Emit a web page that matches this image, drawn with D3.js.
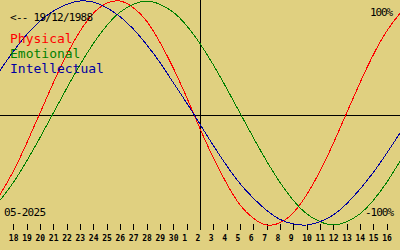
<!DOCTYPE html>
<html>
<head>
<meta charset="utf-8">
<script src="https://cdn.jsdelivr.net/npm/d3@7"></script>
<style>
  body { margin: 0; background: #e0d080; }
  svg { display: block; }
</style>
</head>
<body>
<svg id="chart"></svg>
<script>
// Biorhythm for someone born 19/12/1988, one point per day (17 May .. 16 June).
const birthDate = '19/12/1988';
const monthLabel = '05-2025';
const dayLabels = [18, 19, 20, 21, 22, 23, 24, 25, 26, 27, 28, 29, 30,
  1, 2, 3, 4, 5, 6, 7, 8, 9, 10, 11, 12, 13, 14, 15, 16];
const todayIndex = 15;

const physical = [-0.73, -0.52, -0.27, 0, 0.27, 0.52, 0.73, 0.89, 0.98, 1.0,
  0.94, 0.82, 0.63, 0.4, 0.14, -0.14, -0.4, -0.63, -0.82, -0.94,
  -1.0, -0.98, -0.89, -0.73, -0.52, -0.27, 0, 0.27, 0.52, 0.73, 0.89];
const emotional = [-0.78, -0.62, -0.43, -0.22, 0, 0.22, 0.43, 0.62, 0.78, 0.9,
  0.97, 1.0, 0.97, 0.9, 0.78, 0.62, 0.43, 0.22, 0, -0.22,
  -0.43, -0.62, -0.78, -0.9, -0.97, -1.0, -0.97, -0.9, -0.78, -0.62, -0.43];
const intellectual = [0.38, 0.55, 0.7, 0.82, 0.91, 0.97, 1.0, 0.99, 0.94, 0.86,
  0.75, 0.61, 0.45, 0.27, 0.09, -0.1, -0.29, -0.47, -0.63, -0.76,
  -0.87, -0.95, -0.99, -1.0, -0.97, -0.91, -0.81, -0.68, -0.53, -0.36, -0.18];

const seriesNames = ['Physical', 'Emotional', 'Intellectual'];
const seriesColours = ['#ff0000', '#008000', '#0000a0'];

const width = 400;
const height = 250;

const svg = d3.select('#chart')
  .attr('width', width)
  .attr('height', height);

svg.append('rect')
  .attr('width', width)
  .attr('height', height)
  .attr('fill', '#e0d080');

const x = d3.scaleLinear().domain([0, 30]).range([0, width]);
const y = d3.scaleLinear().domain([-1, 1]).range([225, 1]);

// axes through the middle and at "today"
svg.append('line')
  .attr('x1', 0).attr('x2', width)
  .attr('y1', 115.5).attr('y2', 115.5)
  .attr('stroke', '#000');
svg.append('line')
  .attr('x1', x(todayIndex) + 0.5).attr('x2', x(todayIndex) + 0.5)
  .attr('y1', 0).attr('y2', 230)
  .attr('stroke', '#000');

// day ticks along the bottom
const axis = svg.append('g')
  .attr('transform', 'translate(0,224)')
  .call(
    d3.axisBottom(x)
      .tickValues(d3.range(1, 30))
      .tickSize(6)
      .tickFormat((d) => dayLabels[d - 1])
  );
axis.select('.domain').remove();
axis.selectAll('line').attr('stroke', '#000').attr('shape-rendering', 'crispEdges');
axis.selectAll('text')
  .attr('text-anchor', 'start')
  .attr('x', -5)
  .attr('y', 17)
  .attr('dy', 0)
  .attr('fill', '#000')
  .style('font-family', 'DejaVu Sans Mono')
  .style('font-size', '8px')
  .style('font-weight', 'bold');

// the three curves
const line = d3.line()
  .x((_, i) => x(i))
  .y((d) => y(d))
  .curve(d3.curveNatural);

svg.append('g')
  .selectAll('path')
  .data([physical, emotional, intellectual])
  .join('path')
  .attr('d', line)
  .attr('fill', 'none')
  .attr('stroke', (_, i) => seriesColours[i])
  .attr('stroke-width', 1)
  .attr('shape-rendering', 'crispEdges');

// texts
const mono = 'DejaVu Sans Mono, Liberation Mono, monospace';

function smallText(xPos, yPos, str, len, anchor) {
  svg.append('text')
    .attr('x', xPos).attr('y', yPos)
    .attr('text-anchor', anchor || 'start')
    .attr('textLength', len)
    .attr('lengthAdjust', 'spacing')
    .style('font-family', mono).style('font-size', '11px')
    .attr('fill', '#000')
    .text(str);
}

smallText(10, 21, `<-- ${birthDate}`, 83);

svg.append('g')
  .selectAll('text')
  .data(seriesNames)
  .join('text')
  .attr('x', 10)
  .attr('y', (_, i) => 43 + i * 15)
  .attr('fill', (_, i) => seriesColours[i])
  .style('font-family', mono)
  .style('font-size', '13px')
  .text((d) => d);

smallText(370, 16, '100%', 23);
smallText(365, 216, '-100%', 29);
smallText(4, 216, monthLabel, 42);
</script>
</body>
</html>
